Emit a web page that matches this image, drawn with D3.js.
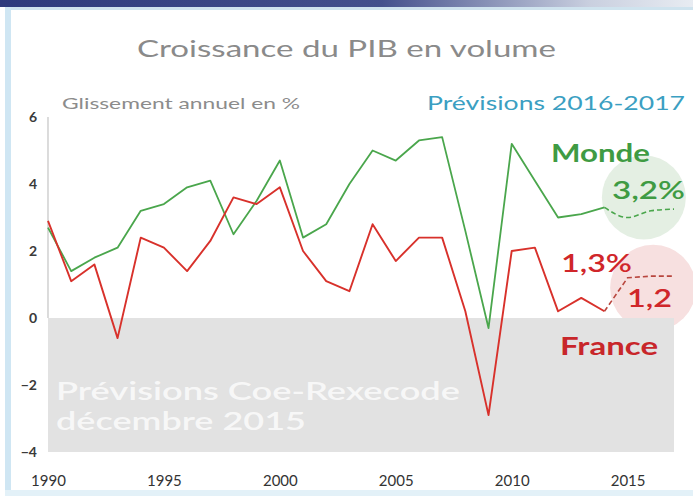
<!DOCTYPE html>
<html>
<head>
<meta charset="utf-8">
<script src="https://cdn.jsdelivr.net/npm/d3@7"></script>
<style>
  body { margin: 0; background: #fff; }
  svg { display: block; font-family: Lato, 'Open Sans', sans-serif; }
</style>
</head>
<body>
<div id="chart"></div>
<script>
// GDP growth, year on year, %
const years = d3.range(1990, 2015);
const monde  = [2.7, 1.4, 1.8, 2.1, 3.2, 3.4, 3.9, 4.1, 2.5, 3.5, 4.7, 2.4, 2.8, 4.0, 5.0, 4.7, 5.3, 5.4, 2.6, -0.3, 5.2, 4.1, 3.0, 3.1, 3.3];
const france = [2.9, 1.1, 1.6, -0.6, 2.4, 2.1, 1.4, 2.3, 3.6, 3.4, 3.9, 2.0, 1.1, 0.8, 2.8, 1.7, 2.4, 2.4, 0.2, -2.9, 2.0, 2.1, 0.2, 0.6, 0.2];

// forecasts (dashed)
const forecastYears  = [2014, 2015, 2016, 2017];
const mondeForecast  = [3.3, 3.0, 3.2, 3.25];
const franceForecast = [0.2, 1.2, 1.25, 1.25];

const yTicks = [-4, -2, 0, 2, 4, 6];
const xTicks = [1990, 1995, 2000, 2005, 2010, 2015];

const width = 693, height = 496;
const green = '#4aa64c', red = '#d8312b';

const svg = d3.select('#chart').append('svg')
    .attr('width', width)
    .attr('height', height);

// frame
const defs = svg.append('defs');
const grad = defs.append('linearGradient').attr('id', 'topbar');
grad.append('stop').attr('offset', '0%').attr('stop-color', '#2e3a7c');
grad.append('stop').attr('offset', '55%').attr('stop-color', '#44508c');
grad.append('stop').attr('offset', '85%').attr('stop-color', '#c9cfdf');
grad.append('stop').attr('offset', '100%').attr('stop-color', '#e8ecf2');

svg.append('rect').attr('x', 0).attr('y', 0).attr('width', width).attr('height', 7).attr('fill', 'url(#topbar)');
svg.append('rect').attr('x', 5).attr('y', 7).attr('width', width - 5).attr('height', 3).attr('fill', '#cfe3ee');
svg.append('rect').attr('x', 5).attr('y', 7).attr('width', 6).attr('height', height - 7).attr('fill', '#cfe6f3');
svg.append('rect').attr('x', 5).attr('y', 490).attr('width', width - 5).attr('height', 6).attr('fill', '#e3f1f8');

const x = d3.scaleLinear()
    .domain([1990, 2017])
    .range([48, 674]);

const y = d3.scaleLinear()
    .domain([-4, 6])
    .range([452, 117]);

// highlight bubbles behind the forecast values
svg.append('circle')
    .attr('cx', x(2015.7)).attr('cy', y(3.6)).attr('r', 42)
    .attr('fill', '#e4efe3');
svg.append('circle')
    .attr('cx', x(2016.1)).attr('cy', y(0.9)).attr('r', 43)
    .attr('fill', '#f7e0e0');

// gray negative zone
svg.append('rect')
    .attr('x', x(1990))
    .attr('y', y(0))
    .attr('width', x(2017) - x(1990))
    .attr('height', y(-4) - y(0))
    .attr('fill', '#e2e2e2');

// vertical axis line
svg.append('line')
    .attr('x1', x(1990)).attr('x2', x(1990))
    .attr('y1', y(6)).attr('y2', y(0))
    .attr('stroke', '#c4c4c4')
    .attr('stroke-width', 1.2);

function fit(t, w) {
  return t.attr('textLength', w).attr('lengthAdjust', 'spacingAndGlyphs');
}

// gray zone caption
const zone = svg.append('g')
    .attr('fill', '#ffffff')
    .attr('fill-opacity', 0.75)
    .attr('font-size', 24)
    .attr('font-weight', 600);
fit(zone.append('text').attr('x', 56).attr('y', 400).text('Prévisions Coe-Rexecode'), 404);
fit(zone.append('text').attr('x', 56).attr('y', 430).text('décembre 2015'), 250);

const line = d3.line()
    .x(d => x(d[0]))
    .y(d => y(d[1]));

svg.append('path')
    .datum(years.map((yr, i) => [yr, monde[i]]))
    .attr('d', line)
    .attr('fill', 'none')
    .attr('stroke', green)
    .attr('stroke-width', 1.8)
    .attr('stroke-linejoin', 'round');

svg.append('path')
    .datum(years.map((yr, i) => [yr, france[i]]))
    .attr('d', line)
    .attr('fill', 'none')
    .attr('stroke', red)
    .attr('stroke-width', 1.9)
    .attr('stroke-linejoin', 'round');

svg.append('path')
    .datum(forecastYears.map((yr, i) => [yr, mondeForecast[i]]))
    .attr('d', line.curve(d3.curveMonotoneX))
    .attr('fill', 'none')
    .attr('stroke', green)
    .attr('stroke-width', 1.6)
    .attr('stroke-dasharray', '5,3');

svg.append('path')
    .datum(forecastYears.map((yr, i) => [yr, franceForecast[i]]))
    .attr('d', line.curve(d3.curveLinear))
    .attr('fill', 'none')
    .attr('stroke', '#b8463e')
    .attr('stroke-width', 1.6)
    .attr('stroke-dasharray', '5,3');

// axes
const yAxis = svg.append('g')
    .attr('transform', 'translate(37,0)')
    .call(d3.axisLeft(y).tickValues(yTicks).tickSize(0).tickPadding(0).tickFormat(d3.format('d')));
yAxis.select('.domain').remove();
yAxis.selectAll('text')
    .attr('font-family', 'Lato, sans-serif')
    .attr('font-size', 14)
    .attr('font-weight', 700)
    .attr('fill', '#3a3a3a');

const xAxis = svg.append('g')
    .attr('transform', 'translate(0,475)')
    .call(d3.axisBottom(x).tickValues(xTicks).tickSize(0).tickPadding(0).tickFormat(d3.format('d')));
xAxis.select('.domain').remove();
xAxis.selectAll('text')
    .attr('font-family', 'Lato, sans-serif')
    .attr('font-size', 15)
    .attr('fill', '#333');

// titles
fit(svg.append('text')
    .attr('x', 137).attr('y', 57)
    .attr('font-size', 24)
    .attr('fill', '#8a8a8a')
    .text('Croissance du PIB en volume'), 419);

fit(svg.append('text')
    .attr('x', 62).attr('y', 109)
    .attr('font-size', 16)
    .attr('fill', '#8c8c8c')
    .text('Glissement annuel en %'), 238);

fit(svg.append('text')
    .attr('x', 427).attr('y', 110)
    .attr('font-size', 19)
    .attr('fill', '#3b9fc2')
    .text('Prévisions 2016-2017'), 258);

// series labels
fit(svg.append('text')
    .attr('x', 551).attr('y', 162)
    .attr('font-size', 24).attr('font-weight', 700)
    .attr('fill', '#3f9b43')
    .text('Monde'), 99);

fit(svg.append('text')
    .attr('x', 612).attr('y', 199)
    .attr('font-size', 24).attr('font-weight', 600)
    .attr('fill', '#3f9b43')
    .text('3,2%'), 73);

fit(svg.append('text')
    .attr('x', 561).attr('y', 272)
    .attr('font-size', 24).attr('font-weight', 600)
    .attr('fill', '#d0262a')
    .text('1,3%'), 71);

fit(svg.append('text')
    .attr('x', 627).attr('y', 307)
    .attr('font-size', 24).attr('font-weight', 600)
    .attr('fill', '#d0262a')
    .text('1,2'), 45);

fit(svg.append('text')
    .attr('x', 560).attr('y', 355)
    .attr('font-size', 24).attr('font-weight', 700)
    .attr('fill', '#c8262a')
    .text('France'), 98);
</script>
</body>
</html>
